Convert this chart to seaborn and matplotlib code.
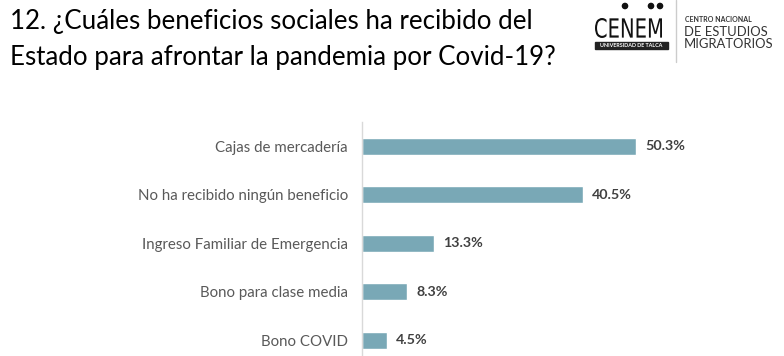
import matplotlib
matplotlib.use("Agg")
import matplotlib.pyplot as plt
import seaborn as sns
import pandas as pd
from matplotlib.patches import Rectangle, PathPatch, Circle
from matplotlib.textpath import TextPath
from matplotlib.font_manager import FontProperties
from matplotlib.transforms import Affine2D

categories = ["Cajas de mercadería", "No ha recibido ningún beneficio",
              "Ingreso Familiar de Emergencia", "Bono para clase media", "Bono COVID"]
values = [50.3, 40.5, 13.3, 8.3, 4.5]
value_labels = ["50.3%", "40.5%", "13.3%", "8.3%", "4.5%"]
title_lines = ["12. ¿Cuáles beneficios sociales ha recibido del",
               "Estado para afrontar la pandemia por Covid-19?"]

sns.set_theme(style="white")
plt.rcParams['font.family'] = ['Lato', 'DejaVu Sans']

W, H = 784, 356
fig = plt.figure(figsize=(W / 100, H / 100), dpi=100)

def fx(px):
    return px / W

def fy(py):
    return 1 - py / H

# chart axes: x from 362 to 784 px, y from 122 to 356 px
ax = fig.add_axes([fx(362), 0, 1 - fx(362), fy(122)])
df = pd.DataFrame({"cat": categories, "val": values})
sns.barplot(data=df, y="cat", x="val", orient="h", color="#79A8B6",
            saturation=1, width=0.35, ax=ax)
px_per_unit = 274 / 50.3
ax.set_xlim(0, (W - 362) / px_per_unit)
spacing = 48.5
ax.set_ylim(-0.5 + 234 / spacing, -0.5)
for s in ["top", "right", "bottom"]:
    ax.spines[s].set_visible(False)
ax.spines["left"].set_color("#D9D9D9")
ax.spines["left"].set_linewidth(1)
ax.set_xticks([])
ax.set_xlabel("")
ax.set_ylabel("")
ax.tick_params(axis="y", length=0, pad=10, labelsize=10.8, labelcolor="#595959")
for i, (v, lab) in enumerate(zip(values, value_labels)):
    ax.annotate(lab, (v, i), xytext=(6.5, 0), textcoords="offset points",
                va="center", ha="left", fontsize=10.3, fontweight="bold", color="#404040")

# title
fig.text(fx(10), fy(22), title_lines[0], fontsize=18.6, color="#000000", va="center", ha="left")
fig.text(fx(10), fy(57), title_lines[1], fontsize=18.6, color="#000000", va="center", ha="left")

# logo drawn in a pixel-coordinate overlay
lax = fig.add_axes([0, 0, 1, 1], zorder=5)
lax.set_xlim(0, W)
lax.set_ylim(H, 0)
lax.axis("off")
lax.patch.set_alpha(0)

tp = TextPath((0, 0), "CENEM", size=10, prop=FontProperties(family="DejaVu Sans"))
ext = tp.get_extents()
sx = 67 / ext.width
sy = 20 / ext.height
tr = Affine2D().translate(-ext.x0, -ext.y0).scale(sx, -sy).translate(595, 38)
lax.add_patch(PathPatch(tr.transform_path(tp), facecolor="#111111", edgecolor="none"))
for dx in [625, 651, 660]:
    lax.add_patch(Circle((dx, 6), 2.6, color="#111111"))
lax.add_patch(Rectangle((595, 42), 73, 6.5, color="#222222"))
lax.text(631.5, 45.3, "UNIVERSIDAD DE TALCA", fontsize=3.9, color="white",
         va="center", ha="center", fontweight="bold")
lax.plot([676, 676], [0, 62], color="#CCCCCC", lw=1)
lax.text(685, 20, "CENTRO NACIONAL", fontsize=5.0, fontweight="bold",
         color="#333333", va="center", ha="left")
lax.text(684, 32, "DE ESTUDIOS", fontsize=9.4, color="#333333", va="center", ha="left")
lax.text(684, 44, "MIGRATORIOS", fontsize=9.4, color="#333333", va="center", ha="left")

fig.savefig("out.png", dpi=100)
